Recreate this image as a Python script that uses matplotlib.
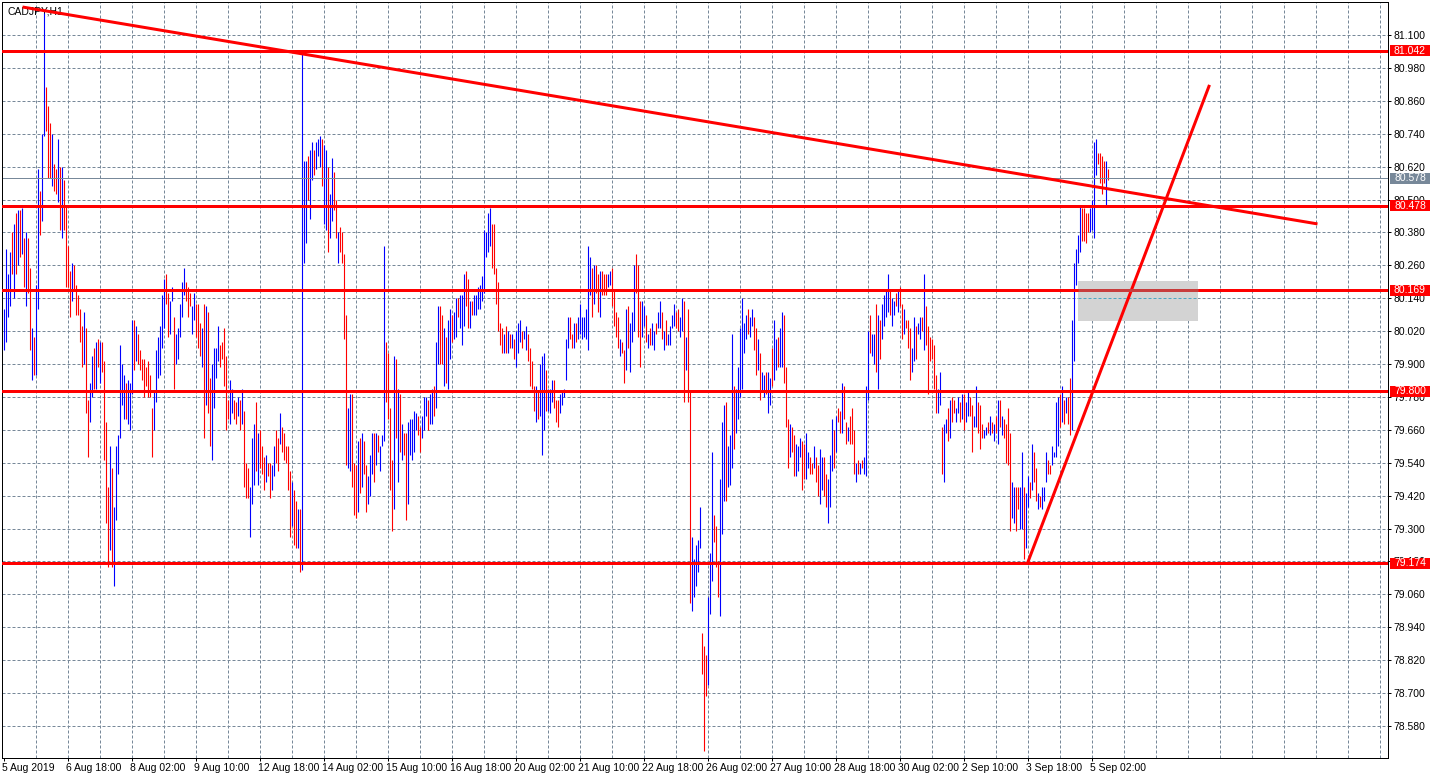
"""
CADJPY H1 bar chart with support/resistance levels and trend lines,
drawn in the style of a MetaTrader terminal window.
"""
import numpy as np
import matplotlib
matplotlib.use("Agg")
import matplotlib.pyplot as plt
import matplotlib.transforms as mtransforms
from matplotlib.patches import Rectangle

plt.rcParams['font.family'] = ['Liberation Sans', 'DejaVu Sans']

# ---- bar data (high, low, direction 1=up/blue 0=down/red), one list per stretch of the chart
high_1 = [80.10, 80.32, 80.23, 80.31, 80.38, 80.41, 80.45, 80.46, 80.46, 80.47,
          80.36, 80.38, 80.36, 80.25, 80.03, 80.00, 80.19, 80.61, 80.53, 80.74,
          81.18, 80.91, 80.84, 80.78, 80.74, 80.63, 80.61, 80.72, 80.62, 80.62,
          80.57, 80.48, 80.33, 80.24, 80.27, 80.26, 80.19, 80.15, 80.10, 80.04,
          80.09, 80.03, 79.77, 79.83, 79.93, 79.96, 79.98, 79.99, 79.98, 79.98,
          79.91, 79.69, 79.45, 79.60, 79.52, 79.38, 79.60, 79.64, 79.97, 79.90,
          79.86, 79.83, 79.84, 79.83, 80.06, 80.06, 80.04, 80.01, 79.95, 79.92,
          79.92, 79.89, 79.91, 79.86, 79.74, 79.80, 79.95, 80.00]
low_1 = [79.95, 79.98, 80.07, 80.11, 80.23, 80.14, 80.23, 80.26, 80.29, 80.30,
         80.18, 80.11, 80.16, 79.95, 79.84, 79.86, 79.86, 80.10, 80.37, 80.42,
         80.73, 80.75, 80.58, 80.58, 80.55, 80.53, 80.52, 80.49, 80.39, 80.36,
         80.39, 80.18, 80.18, 80.07, 80.13, 80.17, 80.08, 80.08, 79.98, 79.89,
         79.90, 79.72, 79.56, 79.69, 79.78, 79.81, 79.81, 79.89, 79.83, 79.87,
         79.55, 79.32, 79.16, 79.22, 79.16, 79.09, 79.33, 79.50, 79.63, 79.75,
         79.70, 79.70, 79.68, 79.66, 79.79, 79.88, 79.91, 79.90, 79.88, 79.84,
         79.78, 79.82, 79.78, 79.78, 79.56, 79.66, 79.76, 79.85]
dir_1 = "1111010101" "0100101101" "1000100101" "0000100000" "1001101010" "0001011111" "1011101000" "00000111"

high_2 = [80.04, 80.15, 80.21, 80.23, 80.16, 80.13, 80.18, 80.07, 80.01, 80.03,
          80.12, 80.20, 80.25, 80.20, 80.18, 80.16, 80.11, 80.16, 80.12, 80.12,
          80.05, 80.03, 80.12, 80.11, 80.09, 79.85, 79.90, 79.96, 79.96, 80.04,
          79.97, 79.98, 80.03, 79.93, 79.77, 79.84, 79.81, 79.77, 79.76, 79.78,
          79.77, 79.81, 79.73, 79.54, 79.52, 79.45, 79.63, 79.68, 79.76, 79.65,
          79.66, 79.60, 79.56, 79.57, 79.54, 79.54, 79.53, 79.60, 79.66, 79.63,
          79.72, 79.67, 79.65, 79.60, 79.60, 79.51, 79.47, 79.44, 79.40, 79.37,
          79.37, 81.03, 80.64, 80.64, 80.66, 80.68, 80.71, 80.68, 80.71, 80.72]
low_2 = [79.86, 79.96, 80.03, 80.12, 80.00, 80.01, 80.13, 79.81, 79.90, 79.92,
         80.00, 80.07, 80.15, 80.13, 80.07, 80.11, 80.01, 80.06, 80.00, 79.96,
         79.93, 79.89, 79.63, 79.75, 79.72, 79.60, 79.55, 79.74, 79.85, 79.91,
         79.89, 79.92, 79.82, 79.66, 79.70, 79.68, 79.72, 79.70, 79.68, 79.71,
         79.66, 79.68, 79.45, 79.41, 79.41, 79.27, 79.39, 79.46, 79.51, 79.46,
         79.52, 79.50, 79.44, 79.47, 79.49, 79.41, 79.44, 79.49, 79.54, 79.51,
         79.61, 79.58, 79.55, 79.54, 79.44, 79.27, 79.31, 79.24, 79.23, 79.23,
         79.14, 79.15, 80.27, 80.34, 80.50, 80.43, 80.57, 80.59, 80.61, 80.66]
dir_2 = "1110011011" "1110001100" "0101001111" "0000011001" "0100011101" "0001001100" "1000001001" "0111011011"

high_3 = [80.73, 80.72, 80.70, 80.68, 80.62, 80.52, 80.65, 80.60, 80.50, 80.38,
          80.40, 80.38, 80.30, 80.08, 79.74, 79.79, 79.79, 79.54, 79.53, 79.62,
          79.63, 79.65, 79.62, 79.53, 79.49, 79.57, 79.65, 79.65, 79.65, 79.64,
          79.60, 79.64, 80.33, 79.98, 79.94, 79.74, 79.55, 79.93, 79.92, 79.81,
          79.79, 79.68, 79.65, 79.65, 79.69, 79.70, 79.70, 79.73, 79.72, 79.71,
          79.67, 79.71, 79.78, 79.78, 79.77, 79.79, 79.81, 79.82, 79.98, 80.11,
          80.11, 80.08, 80.03, 80.00, 80.06, 80.10, 80.08, 80.09, 80.14, 80.14,
          80.15, 80.15, 80.23, 80.24, 80.21, 80.13, 80.13, 80.15, 80.15, 80.18]
low_3 = [80.62, 80.55, 80.41, 80.39, 80.31, 80.36, 80.42, 80.46, 80.36, 80.27,
         80.31, 80.27, 79.99, 79.53, 79.52, 79.51, 79.45, 79.35, 79.34, 79.36,
         79.43, 79.45, 79.50, 79.36, 79.39, 79.42, 79.50, 79.47, 79.53, 79.58,
         79.51, 79.60, 79.62, 79.76, 79.70, 79.44, 79.29, 79.37, 79.63, 79.47,
         79.58, 79.55, 79.57, 79.33, 79.39, 79.57, 79.55, 79.58, 79.66, 79.64,
         79.58, 79.63, 79.66, 79.71, 79.66, 79.68, 79.68, 79.71, 79.74, 79.90,
         79.90, 79.90, 79.82, 79.83, 79.81, 79.92, 79.98, 79.99, 80.00, 80.07,
         80.03, 79.97, 80.04, 80.11, 80.03, 80.03, 80.08, 80.08, 80.08, 80.10]
dir_3 = "1011011001" "0000110001" "0100111010" "1110000101" "0100111110" "0111011011" "0010110110" "1110010111"

high_4 = [80.19, 80.22, 80.39, 80.38, 80.45, 80.47, 80.41, 80.41, 80.25, 80.20,
          80.05, 80.03, 80.01, 80.04, 80.02, 80.01, 80.01, 79.99, 80.02, 80.05,
          80.06, 80.02, 80.02, 80.04, 80.01, 79.96, 79.91, 79.82, 79.82, 79.80,
          79.90, 79.93, 79.94, 79.88, 79.81, 79.81, 79.84, 79.84, 79.77, 79.77,
          79.79, 79.80, 79.81, 79.99, 80.07, 80.07, 80.01, 80.05, 80.05, 80.07,
          80.12, 80.07, 80.07, 80.10, 80.33, 80.29, 80.25, 80.26, 80.26, 80.23,
          80.24, 80.24, 80.23, 80.23, 80.23, 80.24, 80.25, 80.17, 80.09, 80.07,
          79.99, 79.98, 79.95, 80.10, 80.11, 80.05, 80.09, 80.26, 80.30, 80.26]
low_4 = [80.10, 80.13, 80.16, 80.29, 80.31, 80.33, 80.25, 80.23, 80.12, 80.02,
         79.97, 79.94, 79.94, 79.94, 79.94, 79.96, 79.96, 79.92, 79.89, 79.94,
         79.98, 79.96, 79.99, 79.95, 79.91, 79.82, 79.81, 79.73, 79.69, 79.70,
         79.71, 79.57, 79.66, 79.73, 79.73, 79.72, 79.76, 79.74, 79.69, 79.67,
         79.72, 79.75, 79.78, 79.84, 79.96, 79.99, 79.96, 79.96, 79.98, 79.99,
         80.01, 79.99, 80.00, 79.99, 79.95, 80.15, 80.07, 80.12, 80.16, 80.09,
         80.07, 80.15, 80.15, 80.15, 80.18, 80.19, 80.11, 80.04, 80.00, 79.96,
         79.93, 79.94, 79.83, 79.88, 79.96, 79.87, 79.98, 80.02, 80.16, 80.00]
dir_4 = "1111110000" "0010101011" "1011000010" "1110111000" "1111100101" "1111110100" "1000110000" "1001011100"

high_5 = [80.13, 80.13, 80.11, 80.08, 80.01, 80.03, 80.05, 80.02, 80.05, 80.09,
          80.13, 80.09, 80.02, 80.06, 80.01, 80.04, 80.08, 80.12, 80.09, 80.10,
          80.07, 80.14, 80.13, 80.00, 80.10, 79.80, 79.27, 79.19, 79.24, 79.26,
          79.38, 78.92, 78.87, 78.84, 79.05, 79.21, 79.58, 79.35, 79.31, 79.18,
          79.48, 79.69, 79.75, 79.76, 79.60, 79.64, 80.01, 79.82, 79.81, 79.89,
          80.03, 80.14, 80.05, 80.08, 80.10, 80.07, 80.10, 80.07, 80.03, 79.99,
          79.94, 79.87, 79.86, 79.87, 79.87, 79.85, 79.96, 80.06, 79.99, 80.00,
          80.03, 80.09, 80.08, 79.89, 79.70, 79.68, 79.67, 79.64, 79.61, 79.60]
low_5 = [79.89, 80.00, 80.04, 79.98, 79.96, 79.97, 79.97, 79.95, 80.01, 80.03,
         80.03, 79.99, 79.95, 79.97, 79.97, 79.97, 80.03, 80.04, 80.03, 80.02,
         80.00, 80.02, 79.76, 79.88, 79.76, 79.03, 79.00, 79.05, 79.09, 79.14,
         79.23, 78.77, 78.49, 78.69, 78.73, 78.99, 79.11, 79.25, 79.16, 79.05,
         78.98, 79.28, 79.40, 79.40, 79.45, 79.46, 79.52, 79.59, 79.65, 79.70,
         79.78, 79.81, 79.94, 79.99, 80.01, 80.00, 80.04, 79.95, 79.86, 79.88,
         79.77, 79.80, 79.78, 79.79, 79.72, 79.75, 79.82, 79.84, 79.88, 79.89,
         79.89, 79.89, 79.83, 79.67, 79.52, 79.56, 79.58, 79.49, 79.49, 79.51]
dir_5 = "0110101101" "1010111100" "1101001111" "1000111000" "1110111011" "1111011001" "0110110110" "1100010011"

high_6 = [79.63, 79.62, 79.61, 79.65, 79.58, 79.56, 79.54, 79.60, 79.56, 79.53,
          79.59, 79.56, 79.56, 79.50, 79.48, 79.57, 79.70, 79.66, 79.71, 79.74,
          79.73, 79.83, 79.82, 79.69, 79.67, 79.71, 79.74, 79.66, 79.54, 79.55,
          79.54, 79.55, 79.56, 79.82, 80.02, 80.08, 80.01, 80.01, 80.12, 80.08,
          80.06, 80.12, 80.15, 80.17, 80.23, 80.17, 80.14, 80.13, 80.16, 80.17,
          80.18, 80.12, 80.10, 80.06, 80.06, 80.03, 79.96, 80.07, 80.04, 80.05,
          80.07, 80.07, 80.23, 80.11, 80.04, 80.00, 79.99, 79.97, 79.86, 79.81,
          79.87, 79.67, 79.68, 79.70, 79.74, 79.77, 79.78, 79.77, 79.74, 79.78]
low_6 = [79.56, 79.44, 79.48, 79.48, 79.52, 79.50, 79.50, 79.52, 79.47, 79.42,
         79.39, 79.44, 79.42, 79.38, 79.32, 79.38, 79.51, 79.52, 79.58, 79.69,
         79.65, 79.65, 79.70, 79.61, 79.62, 79.61, 79.61, 79.50, 79.47, 79.50,
         79.50, 79.52, 79.50, 79.49, 79.77, 79.94, 79.93, 79.90, 79.87, 79.81,
         79.92, 79.99, 80.04, 80.07, 80.09, 80.08, 80.04, 80.08, 80.11, 80.09,
         80.11, 79.99, 80.01, 80.03, 79.96, 79.84, 79.87, 79.91, 79.92, 80.01,
         79.99, 80.02, 79.95, 79.97, 79.79, 79.91, 79.92, 79.81, 79.72, 79.72,
         79.75, 79.50, 79.47, 79.65, 79.62, 79.63, 79.69, 79.72, 79.69, 79.72]
dir_6 = "1001100100" "1100111010" "0100100010" "1011101101" "0111101101" "0010001101" "1010000001" "1011010011"

high_7 = [79.76, 79.79, 79.79, 79.76, 79.80, 79.78, 79.75, 79.71, 79.82, 79.76,
          79.75, 79.68, 79.66, 79.67, 79.69, 79.71, 79.69, 79.68, 79.71, 79.77,
          79.77, 79.71, 79.70, 79.68, 79.74, 79.65, 79.47, 79.45, 79.45, 79.45,
          79.45, 79.58, 79.45, 79.43, 79.49, 79.47, 79.61, 79.58, 79.52, 79.43,
          79.42, 79.45, 79.45, 79.58, 79.55, 79.53, 79.60, 79.58, 79.76, 79.78,
          79.79, 79.82, 79.77, 79.78, 79.78, 79.85, 80.06, 80.27, 80.32, 80.37,
          80.48, 80.47, 80.47, 80.45, 80.45, 80.47, 80.50, 80.71, 80.72, 80.67,
          80.67, 80.66, 80.64, 80.64, 80.61]
low_7 = [79.69, 79.70, 79.66, 79.69, 79.71, 79.71, 79.58, 79.67, 79.67, 79.65,
         79.59, 79.63, 79.63, 79.64, 79.65, 79.64, 79.65, 79.62, 79.65, 79.61,
         79.67, 79.64, 79.63, 79.54, 79.53, 79.29, 79.34, 79.32, 79.29, 79.37,
         79.30, 79.30, 79.19, 79.23, 79.38, 79.41, 79.44, 79.47, 79.40, 79.37,
         79.38, 79.37, 79.40, 79.47, 79.50, 79.50, 79.53, 79.56, 79.56, 79.60,
         79.67, 79.69, 79.68, 79.72, 79.68, 79.64, 79.66, 79.91, 80.19, 80.27,
         80.31, 80.35, 80.35, 80.34, 80.38, 80.38, 80.39, 80.36, 80.59, 80.63,
         80.56, 80.52, 80.56, 80.48, 80.57]
dir_7 = "0101100110" "0011010101" "0100001100" "1101101001" "0111001111" "0101001111" "1000011110" "00010"

# ---- chart objects
levels = [81.042, 80.478, 80.169, 79.800, 79.174]
bid_price = 80.578
trend_down = [(9.5, 81.202), (657, 80.411)]
trend_up = [(512, 79.174), (603, 80.918)]
zone_bars = (537, 597)
zone_prices = (80.057, 80.203)

price_ticks = [78.580 + 0.12 * k for k in range(22)]
time_bars = [0, 32, 64, 96, 128, 160, 192, 224, 256, 288, 320, 352, 384, 416, 448, 480, 512, 544]
time_labels = ["5 Aug 2019", "6 Aug 18:00", "8 Aug 02:00", "9 Aug 10:00", "12 Aug 18:00",
               "14 Aug 02:00", "15 Aug 10:00", "16 Aug 18:00", "20 Aug 02:00", "21 Aug 10:00",
               "22 Aug 18:00", "26 Aug 02:00", "27 Aug 10:00", "28 Aug 18:00", "30 Aug 02:00",
               "2 Sep 10:00", "3 Sep 18:00", "5 Sep 02:00"]

GRID = "#778899"
PX = 0.72  # one pixel in points at 100 dpi


def main():
    highs = np.array(high_1 + high_2 + high_3 + high_4 + high_5 + high_6 + high_7)
    lows = np.array(low_1 + low_2 + low_3 + low_4 + low_5 + low_6 + low_7)
    dirs = dir_1 + dir_2 + dir_3 + dir_4 + dir_5 + dir_6 + dir_7
    n = min(len(highs), len(lows), len(dirs))
    highs, lows = highs[:n], lows[:n]
    ups = np.array([c == "1" for c in dirs[:n]])
    idx = np.arange(n)

    fig = plt.figure(figsize=(14.36, 7.79), dpi=100)
    ax = fig.add_axes([2 / 1436, 21 / 779, 1386 / 1436, 756 / 779])
    # bar i sits on the centre of pixel column 3 + 2i
    ax.set_xlim(-0.75, 692.25)
    ax.set_ylim(78.4632, 81.2203)

    # grid
    for p in price_ticks:
        ax.axhline(p, color=GRID, lw=PX, ls=(0, (3, 2)), zorder=0.5)
    for b in range(16, 693, 16):
        ax.axvline(b, color=GRID, lw=PX, ls=(0, (3, 2)), zorder=0.5)

    # grey zone
    ax.add_patch(Rectangle((zone_bars[0], zone_prices[0]), zone_bars[1] - zone_bars[0],
                           zone_prices[1] - zone_prices[0], fc="#d3d3d3", ec="none", zorder=1))
    ax.plot(zone_bars, [price_ticks[13]] * 2, color="#4aa6c4", lw=PX, ls=(0, (3, 2)), zorder=1.1)

    # bars
    ax.vlines(idx[ups], lows[ups], highs[ups], colors="#0000ff", linewidths=0.8, zorder=2)
    ax.vlines(idx[~ups], lows[~ups], highs[~ups], colors="#ff0000", linewidths=0.8, zorder=2)

    ax.text(5 / 1386, 1 - 5 / 756, "CADJPY,H1", transform=ax.transAxes, ha="left", va="top",
            fontsize=7.5, color="black", zorder=1.5)

    # levels and trend lines
    ax.axhline(bid_price, color=GRID, lw=PX, zorder=2.5)
    for lv in levels:
        ax.axhline(lv, color="#ff0000", lw=3 * PX, zorder=3)
    ax.plot(zone_bars, [levels[2]] * 2, color="#c83c3c", lw=3 * PX, zorder=3.1, solid_capstyle="butt")
    for line in (trend_down, trend_up):
        ax.plot([line[0][0], line[1][0]], [line[0][1], line[1][1]], color="#ff0000",
                lw=3 * PX, zorder=3, solid_capstyle="butt")

    # axes look
    for sp in ax.spines.values():
        sp.set_linewidth(PX)
        sp.set_color("black")
    ax.yaxis.tick_right()
    ax.set_yticks(price_ticks, labels=[f"{p:.3f}" for p in price_ticks])
    ax.set_xticks(time_bars, labels=time_labels, ha="left")
    ax.tick_params(axis="y", length=3 * PX, width=PX, pad=1.5, labelsize=7.5, colors="black")
    ax.tick_params(axis="x", length=3 * PX, width=PX, pad=1.5, labelsize=7.5, colors="black")
    shift = mtransforms.ScaledTranslation(-2 / 100, 0, fig.dpi_scale_trans)
    for lbl in ax.get_xticklabels():
        lbl.set_transform(lbl.get_transform() + shift)

    # price tags on the scale
    trans = ax.get_yaxis_transform()
    tag_w = 40 / 1386
    tag_h = 11 / 274.2
    tags = [(lv, "#ff0000") for lv in levels] + [(bid_price, GRID)]
    for price, col in tags:
        ax.add_patch(Rectangle((1 + 2 / 1386, price - tag_h / 2), tag_w, tag_h, transform=trans,
                               fc=col, ec="none", clip_on=False, zorder=5))
        ax.text(1 + 2 / 1386 + tag_w / 2, price, f"{price:.3f}", transform=trans, ha="center",
                va="center", fontsize=7.5, color="white", clip_on=False, zorder=6)

    fig.savefig("out.png", dpi=100)
    plt.close(fig)


if __name__ == "__main__":
    main()
